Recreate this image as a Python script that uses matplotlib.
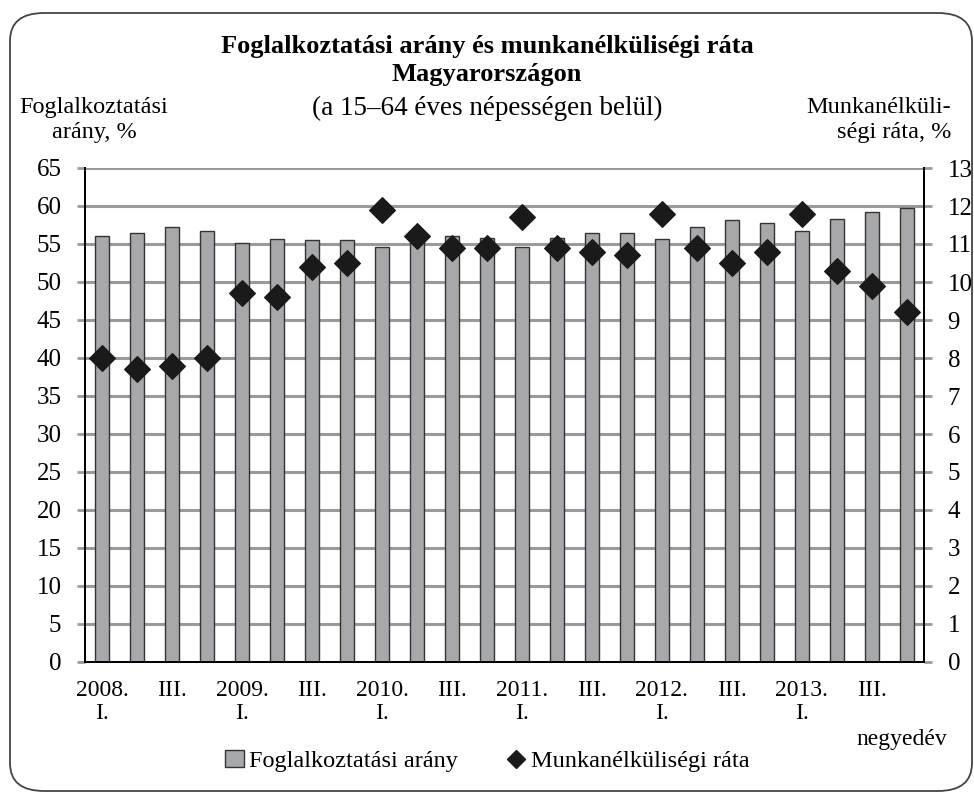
import matplotlib.pyplot as plt
import numpy as np
from matplotlib.patches import FancyBboxPatch
from matplotlib.lines import Line2D
from matplotlib.patches import Patch

plt.rcParams['font.family'] = ['Liberation Serif', 'DejaVu Serif']

quarters = ['2008.\nI.', '', 'III.', '', '2009.\nI.', '', 'III.', '',
            '2010.\nI.', '', 'III.', '', '2011.\nI.', '', 'III.', '',
            '2012.\nI.', '', 'III.', '', '2013.\nI.', '', 'III.', '']
employment = [56.1, 56.5, 57.3, 56.7, 55.1, 55.7, 55.5, 55.5,
              54.6, 55.8, 56.0, 55.8, 54.6, 55.8, 56.4, 56.5,
              55.7, 57.2, 58.2, 57.8, 56.7, 58.3, 59.2, 59.7]
unemployment = [8.0, 7.7, 7.8, 8.0, 9.7, 9.6, 10.4, 10.5,
                11.9, 11.2, 10.9, 10.9, 11.7, 10.9, 10.8, 10.7,
                11.8, 10.9, 10.5, 10.8, 11.8, 10.3, 9.9, 9.2]
left_ticks = np.arange(0, 66, 5)
right_ticks = np.arange(0, 14, 1)

bar_color = '#a7a8ab'
grid_color = '#9a9a9a'

fig = plt.figure(figsize=(9.74, 7.94), dpi=100)
ax = fig.add_axes([85/974, 1-662/794, 839/974, 494/794])
ax2 = ax.twinx()

x = np.arange(len(employment))
ax.bar(x, employment, width=0.4, color=bar_color, edgecolor='#333333', linewidth=1, zorder=3)
ax2.scatter(x, unemployment, marker='D', s=170, color='#1a1a1a', zorder=5)

ax.set_xlim(-0.5, len(employment) - 0.5)
ax.set_ylim(0, 65)
ax2.set_ylim(0, 13)
ax.set_yticks(left_ticks)
ax2.set_yticks(right_ticks)
ax.yaxis.grid(True, color=grid_color, linewidth=2.2, zorder=0)
ax.set_axisbelow(True)

ax.set_xticks(x)
ax.set_xticklabels(quarters, fontsize=17, linespacing=1.15)
ax.tick_params(axis='x', length=0, pad=13)
ax.tick_params(axis='y', labelsize=18, length=6, width=2, color=grid_color, pad=11)
ax2.tick_params(axis='y', labelsize=18, length=6, width=2, color=grid_color, pad=11)
for lab in ax.get_xticklabels():
    lab.set_horizontalalignment('center')
    lab.set_verticalalignment('top')

for a in (ax, ax2):
    a.spines['top'].set_visible(False)
    a.spines['left'].set_linewidth(1.4)
    a.spines['right'].set_linewidth(1.4)
    a.spines['bottom'].set_linewidth(1.4)

# titles
fig.text(0.5, 1-47/794, 'Foglalkoztatási arány és munkanélküliségi ráta', ha='center', va='center',
         fontsize=19, fontweight='bold')
fig.text(0.5, 1-75/794, 'Magyarországon', ha='center', va='center', fontsize=19, fontweight='bold')
fig.text(0.5, 1-108/794, '(a 15–64 éves népességen belül)', ha='center', va='center', fontsize=19.5)
fig.text(94/974, 1-120/794, 'Foglalkoztatási\narány, %', ha='center', va='center', fontsize=17.5,
         linespacing=1.3)
fig.text(951/974, 1-120/794, 'Munkanélküli-\nségi ráta, %', ha='right', va='center', fontsize=17.5,
         linespacing=1.3)
fig.text(902/974, 1-740/794, 'negyedév', ha='center', va='center', fontsize=17)

handles = [Patch(facecolor=bar_color, edgecolor='#333333', label='Foglalkoztatási arány'),
           Line2D([], [], marker='D', color='#1a1a1a', linestyle='none', markersize=9,
                  label='Munkanélküliségi ráta')]
fig.legend(handles=handles, loc='center', bbox_to_anchor=(0.5, 1-761/794), ncol=2, frameon=False,
           fontsize=17.5, handlelength=0.8, handletextpad=0.2, columnspacing=2.0)

frame = FancyBboxPatch((10/974, 3/794), 962/974, 778/794, boxstyle='round,pad=0,rounding_size=0.035',
                       transform=fig.transFigure, fill=False, edgecolor='#444444', linewidth=1.3)
fig.patches.append(frame)

fig.savefig('out.png', dpi=100)
